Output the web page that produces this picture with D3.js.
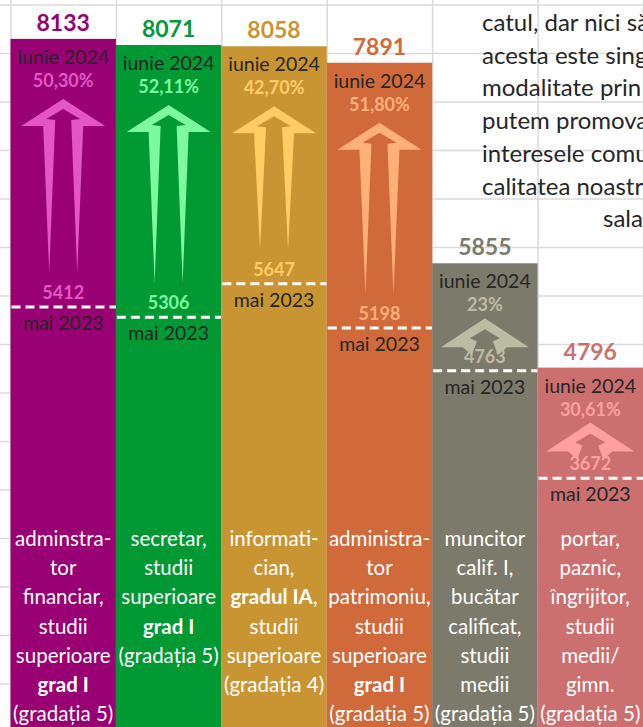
<!DOCTYPE html>
<html lang="ro">
<head>
<meta charset="utf-8">
<title>Salarii personal nedidactic</title>
<script src="https://cdn.jsdelivr.net/npm/d3@7"></script>
<style>
  html, body { margin: 0; padding: 0; background: #fff; overflow: hidden; }
  svg { display: block; font-family: Lato, "Open Sans", sans-serif; }
</style>
</head>
<body>
<svg id="chart"></svg>
<script>
// --- data ---
const jobLabels = [
  ['adminstra-', 'tor', 'financiar,', 'studii', 'superioare', '*grad I*', '(gradația 5)'],
  ['secretar,', 'studii', 'superioare', '*grad I*', '(gradația 5)'],
  ['informati-', 'cian,', '*gradul IA*,', 'studii', 'superioare', '(gradația 4)'],
  ['administra-', 'tor', 'patrimoniu,', 'studii', 'superioare', '*grad I*', '(gradația 5)'],
  ['muncitor', 'calif. I,', 'bucătar', 'calificat,', 'studii', 'medii', '(gradația 5)'],
  ['portar,', 'paznic,', 'îngrijitor,', 'studii', 'medii/', 'gimn.', '(gradația 5)']
];
const salaryJun2024 = [8133, 8071, 8058, 7891, 5855, 4796];
const salaryMai2023 = [5412, 5306, 5647, 5198, 4763, 3672];
const growthText    = ['50,30%', '52,11%', '42,70%', '51,80%', '23%', '30,61%'];
const arrowKind     = ['tall', 'tall', 'tall', 'tall', 'short', 'short'];
const periodNow     = 'iunie 2024';
const periodBefore  = 'mai 2023';

const barColors    = ['#990073', '#009933', '#c99533', '#d06a3b', '#7c7a6a', '#cc6f6f'];
const accentColors = ['#e456c8', '#7dfa9e', '#ffcc66', '#ffaf78', '#bcbba4', '#ff9f9f'];
const valueColors  = ['#990073', '#03983a', '#c99533', '#d06a3b', '#7c7a6a', '#cc6f6f'];

const sideText = [
  'catul, dar nici să',
  'acesta este sing',
  'modalitate prin',
  'putem promova',
  'interesele comu',
  'calitatea noastr',
  'sala'
];

// --- layout ---
const width = 643, height = 727;
const svg = d3.select('#chart').attr('width', width).attr('height', height);

const x = d3.scaleBand()
  .domain(d3.range(salaryJun2024.length))
  .range([10.5, width])
  .padding(0);

const y = d3.scaleLinear()
  .domain([0, 8000])
  .range([840, 52]);

// spreadsheet grid behind everything
const rowH = 48.5, colW = x.bandwidth();
const grid = svg.append('g').attr('stroke', '#dadada').attr('stroke-width', 1.5);
grid.selectAll('line.h')
  .data(d3.range(5, height, rowH))
  .join('line')
    .attr('class', 'h')
    .attr('x1', 0).attr('x2', width)
    .attr('y1', d => d).attr('y2', d => d);
grid.selectAll('line.v')
  .data(d3.range(11, width + 1, colW))
  .join('line')
    .attr('class', 'v')
    .attr('y1', 0).attr('y2', height)
    .attr('x1', d => d).attr('x2', d => d);

// body text on the right (cut by the page edge)
svg.append('g')
  .selectAll('text')
  .data(sideText)
  .join('text')
    .attr('x', (d, i) => i === sideText.length - 1 ? 603 : 482)
    .attr('y', (d, i) => 31 + i * 32.7)
    .attr('fill', '#262626')
    .style('font-size', '24px')
    .text(d => d);

// ---------- columns ----------
const cols = svg.append('g')
  .selectAll('g')
  .data(salaryJun2024.map((v, i) => ({ i, now: v, before: salaryMai2023[i] })))
  .join('g');

cols.append('rect')
  .attr('x', d => x(d.i))
  .attr('y', d => y(d.now))
  .attr('width', x.bandwidth())
  .attr('height', d => height - y(d.now) + 5)
  .attr('fill', d => barColors[d.i]);

const cx = d => x(d.i) + x.bandwidth() / 2;

// value above the column
cols.append('text')
  .attr('x', cx)
  .attr('y', d => y(d.now) - 8)
  .attr('text-anchor', 'middle')
  .attr('fill', d => valueColors[d.i])
  .style('font-size', '23px')
  .style('font-weight', 700)
  .text(d => d.now);

cols.append('text')
  .attr('x', cx)
  .attr('y', d => y(d.now) + 25)
  .attr('text-anchor', 'middle')
  .attr('fill', '#262626')
  .style('font-size', '19.5px')
  .text(periodNow);

cols.append('text')
  .attr('x', cx)
  .attr('y', d => y(d.now) + 48)
  .attr('text-anchor', 'middle')
  .attr('fill', d => accentColors[d.i])
  .style('font-size', '18px')
  .style('font-weight', 700)
  .text(d => growthText[d.i]);

// dashed line at the old level
cols.append('line')
  .attr('x1', d => x(d.i) + 1)
  .attr('x2', d => x(d.i) + x.bandwidth())
  .attr('y1', d => y(d.before))
  .attr('y2', d => y(d.before))
  .attr('stroke', '#fff')
  .attr('stroke-width', 3)
  .attr('stroke-dasharray', '9,5');

cols.append('text')
  .attr('x', cx)
  .attr('y', d => y(d.before) - 8)
  .attr('text-anchor', 'middle')
  .attr('fill', d => accentColors[d.i])
  .style('font-size', '18px')
  .style('font-weight', 700)
  .text(d => d.before);

cols.append('text')
  .attr('x', cx)
  .attr('y', d => y(d.before) + 23)
  .attr('text-anchor', 'middle')
  .attr('fill', '#262626')
  .style('font-size', '19.5px')
  .text(periodBefore);

// ---------- arrows ----------
function tallArrow(d) {
  const top = y(d.now) + 60, L = y(d.before) - 34 - top;
  const pts = [[0,0],[42,27],[20,27],[14,L],[8,21],[17,20],[0,10],
               [-17,20],[-8,21],[-14,L],[-20,27],[-42,27]];
  return d3.line()(pts.map(p => [cx(d) + p[0], top + p[1]])) + 'Z';
}
function shortArrow(d) {
  const top = y(d.now) + 55;
  const pts = [[0,0],[44,29],[22,29],[13,37],[8,23],[15,20],[0,11],
               [-15,20],[-8,23],[-13,37],[-22,29],[-44,29]];
  return d3.line()(pts.map(p => [cx(d) + p[0], top + p[1]])) + 'Z';
}

cols.append('path')
  .attr('d', d => arrowKind[d.i] === 'tall' ? tallArrow(d) : shortArrow(d))
  .attr('fill', d => accentColors[d.i]);

// ---------- job labels at the bottom ----------
const labels = cols.append('text')
  .attr('text-anchor', 'middle')
  .attr('fill', '#fff')
  .style('font-size', '20.5px');

labels.each(function(d) {
  const t = d3.select(this);
  jobLabels[d.i].forEach((line, k) => {
    const parts = line.split(/(\*[^*]+\*)/).filter(s => s);
    parts.forEach((p, j) => {
      const bold = p.startsWith('*');
      const ts = t.append('tspan').text(bold ? p.slice(1, -1) : p);
      if (j === 0) ts.attr('x', cx(d)).attr('y', 546 + k * 29.2);
      if (bold) ts.style('font-weight', 700);
    });
  });
});
</script>
</body>
</html>
